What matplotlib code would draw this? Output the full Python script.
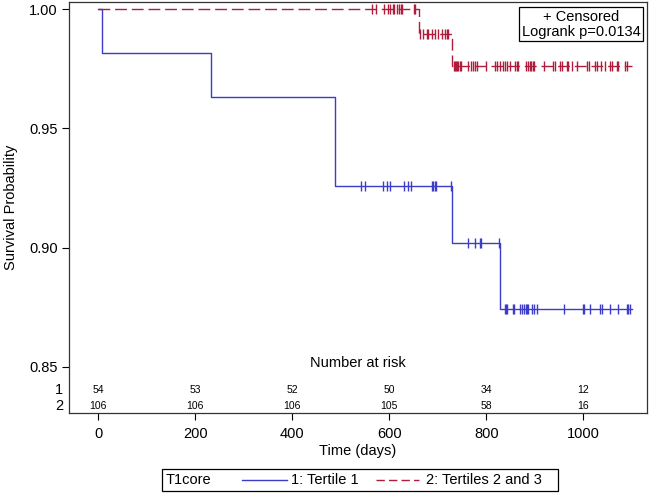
import numpy as np
import matplotlib
matplotlib.use("Agg")
import matplotlib.pyplot as plt
from matplotlib.patches import Rectangle
from matplotlib.lines import Line2D

plt.rcParams['font.family'] = ['Liberation Sans', 'DejaVu Sans']

# Tertile 1 (blue) - step curve
t1_times = [0, 8, 232, 488, 729, 829, 1100]
t1_surv = [1.0, 0.9815, 0.963, 0.926, 0.9019, 0.8745, 0.8745]
t1_cens = [542, 550, 587, 595, 601, 630, 638, 645, 688, 691, 695, 697, 727,
           763, 777, 787, 789, 826,
           839, 841, 843, 854, 857, 870, 874, 878, 881, 884, 886, 895, 898,
           904, 961, 1000, 1002, 1014, 1034, 1038, 1055, 1072, 1090, 1092, 1095]

# Tertiles 2 and 3 (red) - step curve
t2_times = [0, 661, 730, 1100]
t2_surv = [1.0, 0.9897, 0.976, 0.976]
t2_cens = [565, 572, 590, 597, 602, 607, 610, 615, 620, 625, 627, 650, 652,
           663, 670, 677, 680, 687, 694, 701, 708, 715, 718, 721,
           733, 736, 738, 740, 742, 746, 748, 763, 768, 772, 777, 781, 799,
           818, 821, 828, 835, 839, 842, 849, 859, 863, 866, 882, 885, 889,
           892, 896, 898, 918, 938, 942, 951, 956, 966, 969, 976, 986, 1008,
           1012, 1023, 1028, 1036, 1045, 1055, 1059, 1069, 1072, 1086, 1090]

risk_times = [0, 200, 400, 600, 800, 1000]
risk_1 = [54, 53, 52, 50, 34, 12]
risk_2 = [106, 106, 106, 105, 58, 16]

blue = '#3c3cc8'
red = '#b01c3c'


def surv_at(times, surv, t):
    i = np.searchsorted(times, t, side='right') - 1
    return np.array(surv)[i]


W, H = 650, 494
fig = plt.figure(figsize=(6.5, 4.94), dpi=100)
ax = fig.add_axes([69 / W, 1 - 413 / H, 578 / W, 411 / H])

ax.step(t1_times, t1_surv, where='post', color=blue, lw=1)
ax.plot(t1_cens, surv_at(t1_times, t1_surv, t1_cens), ls='none',
        marker='|', ms=7, mew=1, color=blue)
ax.step(t2_times, t2_surv, where='post', color=red, lw=1, dashes=(8.5, 3.5))
ax.plot(t2_cens, surv_at(t2_times, t2_surv, t2_cens), ls='none',
        marker='|', ms=7, mew=1, color=red)

ax.set_xlim(-60, 1131)
ax.set_ylim(0.8307, 1.003)
ax.set_xticks(risk_times)
ax.set_yticks([0.85, 0.90, 0.95, 1.00])
ax.set_yticklabels(['0.85', '0.90', '0.95', '1.00'])
ax.tick_params(axis='both', labelsize=10.5, length=5, width=0.8)
ax.tick_params(axis='y', pad=3)
ax.tick_params(axis='x', pad=5)
for s in ax.spines.values():
    s.set_linewidth(0.9)
    s.set_color('#333333')

ax.set_ylabel('Survival Probability', fontsize=10.5, labelpad=8)
ax.set_xlabel('Time (days)', fontsize=10.5, labelpad=2)

# number at risk table inside the axes
trans = ax.get_xaxis_transform()
ax.text(0.5, 0.122, 'Number at risk', transform=ax.transAxes,
        ha='center', va='center', fontsize=10.5)
for t, a, b in zip(risk_times, risk_1, risk_2):
    ax.text(t, 0.056, str(a), transform=trans, ha='center', va='center', fontsize=7.5)
    ax.text(t, 0.017, str(b), transform=trans, ha='center', va='center', fontsize=7.5)
ax.text(-0.01, 0.056, '1', transform=ax.transAxes, ha='right', va='center', fontsize=10.5)
ax.text(-0.01, 0.017, '2', transform=ax.transAxes, ha='right', va='center', fontsize=10.5)

# censored / logrank inset box
ax.text(0.886, 0.946, '+ Censored\nLogrank p=0.0134', transform=ax.transAxes,
        ha='center', va='center', multialignment='center', fontsize=10.5,
        linespacing=1.1,
        bbox=dict(boxstyle='square,pad=0.18', fc='white', ec='black', lw=0.9))

# legend box at the bottom
def fx(px):
    return px / W


def fy(py):
    return 1 - py / H


fig.add_artist(Rectangle((fx(162), fy(491)), fx(558) - fx(162), fy(469) - fy(491),
                         transform=fig.transFigure, fill=False, ec='black', lw=0.9))
fig.text(fx(166), fy(480), 'T1core', ha='left', va='center', fontsize=10.5)
fig.add_artist(Line2D([fx(242), fx(287)], [fy(480), fy(480)],
                      transform=fig.transFigure, color=blue, lw=1))
fig.text(fx(291), fy(480), '1: Tertile 1', ha='left', va='center', fontsize=10.5)
fig.add_artist(Line2D([fx(376), fx(419)], [fy(480), fy(480)],
                      transform=fig.transFigure, color=red, lw=1, dashes=(6, 3)))
fig.text(fx(426), fy(480), '2: Tertiles 2 and 3', ha='left', va='center', fontsize=10.5)

fig.savefig('out.png', dpi=100)
